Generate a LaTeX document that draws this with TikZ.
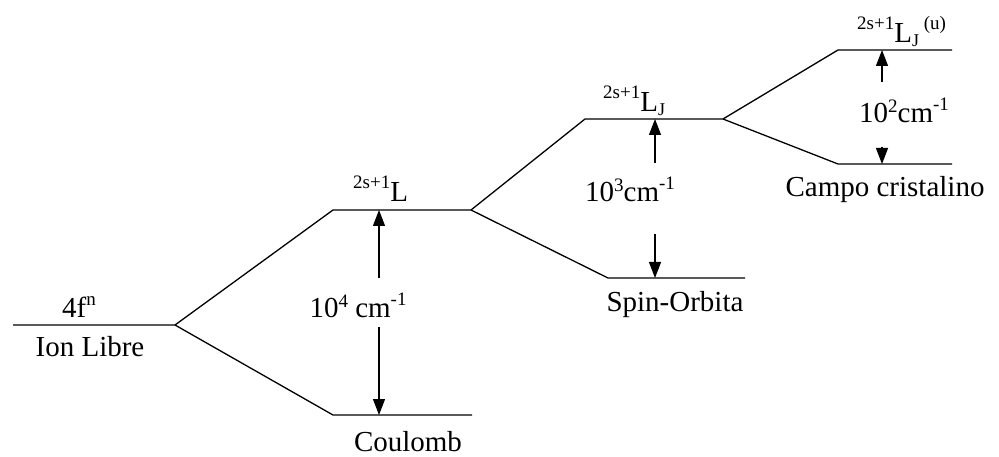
\documentclass[tikz,border=0pt]{standalone}
\usepackage{fontspec}
\setmainfont{Liberation Serif}
\usetikzlibrary{arrows.meta}
\newcommand{\hi}[2][10pt]{\raisebox{#1}{\fontsize{19}{19}\selectfont #2}}
\newcommand{\lo}[1]{\raisebox{-4pt}{\fontsize{18}{18}\selectfont #1}}
\newcommand{\term}[1]{\hi[13pt]{2s+1}L#1}

\begin{document}
\begin{tikzpicture}[x=1pt,y=-1pt,
  level/.style={line width=1.3pt},
  gap/.style={line width=1.2pt,-{Triangle[length=16pt,width=12pt]}},
  every node/.style={font=\fontsize{29}{33}\selectfont,inner sep=0pt}]
  \useasboundingbox (0,0) rectangle (999,457);
  % free ion and Coulomb splitting
  \coordinate (free) at (13,325);
  \coordinate (fork1) at (175,325);
  \coordinate (Lup) at (333,210);
  \coordinate (fork2) at (471,210);
  \coordinate (Clo) at (333,415);
  \coordinate (Cend) at (472,415);
  \draw[level] (free) -- (fork1) -- (Lup) -- (fork2);
  \draw[level] (fork1) -- (Clo) -- (Cend);
  % spin-orbit
  \coordinate (LJup) at (585,119);
  \coordinate (fork3) at (723,119);
  \coordinate (SOlo) at (608,278);
  \coordinate (SOend) at (745,278);
  \draw[level] (fork2) -- (LJup) -- (fork3);
  \draw[level] (fork2) -- (SOlo) -- (SOend);
  % crystal field
  \coordinate (CFup) at (838,50);
  \coordinate (CFupend) at (952,50);
  \coordinate (CFlo) at (838,164);
  \coordinate (CFloend) at (952,164);
  \draw[level] (fork3) -- (CFup) -- (CFupend);
  \draw[level] (fork3) -- (CFlo) -- (CFloend);

  % labels
  \node[anchor=base west] (fourf) at (62,317) {4f\hi[12pt]{n}};
  \node[anchor=base] (ionlibre) at (90,356) {Ion Libre};
  \node[anchor=base west] (termL) at (353,202) {\term{}};
  \node[anchor=base] (coulomb) at (408,451) {Coulomb};
  \node[anchor=base west] (termLJ) at (603,112) {\term{\lo{J}}};
  \node[anchor=base] (spinorb) at (675,312) {Spin-Orbita};
  \node[anchor=base west] (termLJu) at (857,43) {\term{\lo{J}\,\hi[13pt]{(u)}}};
  \node[anchor=base] (campo) at (885,197) {Campo cristalino};
  \node[anchor=base] (gap4) at (358,317) {10\hi{4} cm\hi[12pt]{-1}};
  \node[anchor=base] (gap3) at (630,202) {10\hi{3}cm\hi[12pt]{-1}};
  \node[anchor=base] (gap2) at (904,123) {10\hi{2}cm\hi[12pt]{-1}};

  % splitting arrows
  \coordinate (a4t) at (379,278);
  \coordinate (a4b) at (379,327);
  \draw[gap] (a4t) -- (a4t |- fork2);
  \draw[gap] (a4b) -- (a4b |- Cend);
  \coordinate (a3t) at (655,163);
  \coordinate (a3b) at (655,234);
  \draw[gap] (a3t) -- (a3t |- fork3);
  \draw[gap] (a3b) -- (a3b |- SOend);
  \coordinate (a2t) at (882,82);
  \coordinate (a2b) at (882,147);
  \draw[gap] (a2t) -- (a2t |- CFupend);
  \draw[gap] (a2b) -- (a2b |- CFloend);
\end{tikzpicture}
\end{document}
